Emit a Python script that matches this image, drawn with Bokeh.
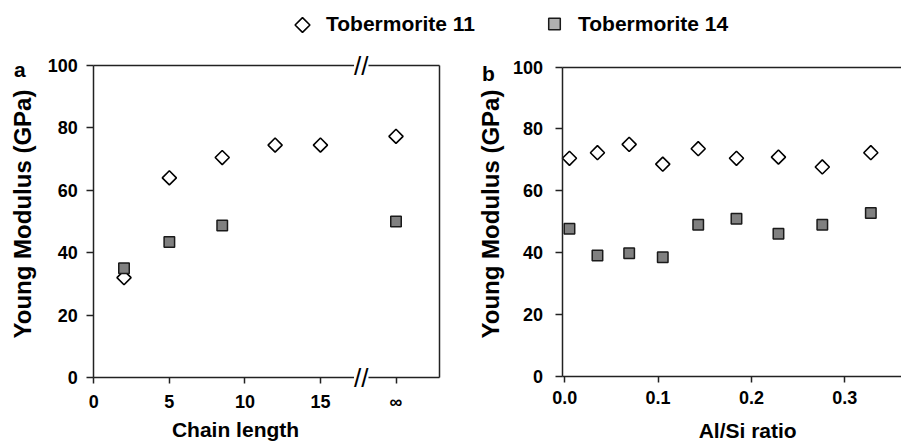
import numpy as np
from bokeh.plotting import figure
from bokeh.models import (Range1d, FixedTicker, LinearAxis, Label, Legend, LegendItem,
                          PrintfTickFormatter)
from bokeh.embed import file_html
from bokeh.resources import INLINE

# ---------------- data ----------------
# panel a: chain length (20 stands for the infinite chain, shown as "∞")
chain_len_11 = [2, 5, 8.5, 12, 15, 20]
tob11_chain = [32, 64, 70.5, 74.5, 74.5, 77.3]
chain_len_14 = [2, 5, 8.5, 20]
tob14_chain = [35, 43.4, 48.7, 50]
chain_ticks = [0, 5, 10, 15, 20]
chain_tick_labels = {20: "∞"}

# panel b: Al/Si ratio
alsi = [0.005, 0.035, 0.069, 0.105, 0.143, 0.184, 0.229, 0.276, 0.328]
tob11_alsi = [70.5, 72.3, 75.0, 68.6, 73.6, 70.5, 70.9, 67.7, 72.3]
tob14_alsi = [47.7, 39.1, 39.8, 38.5, 49.0, 51.0, 46.1, 49.0, 52.8]
alsi_ticks = [0.0, 0.1, 0.2, 0.3]
y_ticks = [0, 20, 40, 60, 80, 100]

series_names = ["Tobermorite 11", "Tobermorite 14"]

# ---------------- layout (pixel anchors of the two panels) ----------------
W, H = 901, 442
# panel a: x=0 at px 93.3, 15.11 px per unit; y=0 at px 377, y=100 at px 65
A_X0, A_SX, A_XMAX = 93.3, 15.11, 22.9
A_Y0, A_SY = 377.0, 3.12
# panel b: x=0 at px 564.3, 933 px per unit; y=0 at px 376, y=100 at px 66.5
B_X0, B_SX, B_XMIN = 564.3, 933.0, -0.002
B_Y0, B_SY = 376.0, 3.095
B_XMAX = (W - B_X0) / B_SX


def ax_px(px):  # page pixel -> panel a x
    return (px - A_X0) / A_SX


def ay_px(py):  # page pixel -> panel a y
    return (A_Y0 - py) / A_SY


FONT = "Liberation Sans"
LINE = "#222222"
SQ_FILL = "#808080"

p = figure(width=W, height=H, output_backend="svg", toolbar_location=None,
           x_axis_location=None, y_axis_location=None, min_border=0,
           x_range=Range1d(-A_X0 / A_SX, (W - A_X0) / A_SX),
           y_range=Range1d(-(H - A_Y0) / A_SY, A_Y0 / A_SY))
p.extra_x_ranges = {"b": Range1d(-B_X0 / B_SX, (W - B_X0) / B_SX)}
p.extra_y_ranges = {"b": Range1d(-(H - B_Y0) / B_SY, B_Y0 / B_SY)}
p.outline_line_color = None
p.grid.visible = False
p.background_fill_color = "white"
p.border_fill_color = "white"


def axis(side, rng, loc, bounds, ticks=None, tick_out=6, standoff=8, formatter=None, overrides=None):
    ax = LinearAxis(x_range_name=rng, y_range_name=rng, fixed_location=loc, bounds=bounds,
                    axis_line_color=LINE, axis_line_width=1.5,
                    major_tick_line_color=LINE, major_tick_line_width=1.5,
                    major_tick_in=0, major_tick_out=tick_out, minor_tick_line_color=None,
                    major_label_text_font=FONT, major_label_text_font_style="bold",
                    major_label_text_font_size="18px", major_label_text_color="black",
                    major_label_standoff=standoff,
                    ticker=FixedTicker(ticks=ticks if ticks is not None else []))
    if ticks is None:
        ax.major_label_text_font_size = "0px"
        ax.major_tick_line_color = None
    if formatter is not None:
        ax.formatter = formatter
    if overrides:
        ax.major_label_overrides = overrides
    p.add_layout(ax, side)
    return ax


def label(rng, x, y, text, size, angle=0.0, baseline="alphabetic", style="bold", bg=None, align="center"):
    lb = Label(x=x, y=y, text=text, x_range_name=rng, y_range_name=rng,
               text_font=FONT, text_font_size=size, text_font_style=style,
               text_align=align, text_baseline=baseline, angle=angle, text_color="black")
    if bg is not None:
        lb.background_fill_color = bg
    p.add_layout(lb)


# ---------------- panel a ----------------
axis("below", "default", 0, (0, A_XMAX), chain_ticks, overrides=chain_tick_labels)
axis("left", "default", 0, (0, 100), y_ticks, tick_out=7, standoff=9)
axis("above", "default", 100, (0, A_XMAX))
axis("right", "default", A_XMAX, (0, 100))

p.scatter(chain_len_11, tob11_chain, marker="square", angle=np.pi / 4, size=10,
          fill_color="white", line_color="black", line_width=1.6)
p.scatter(chain_len_14, tob14_chain, marker="square", size=10.5,
          fill_color=SQ_FILL, line_color="#1a1a1a", line_width=1.5)

label("default", 9.38, -16.8, "Chain length", "21px")
label("default", -4.72, 52.4, "Young Modulus (GPa)", "24px", angle=np.pi / 2, baseline="middle")
label("default", -4.9, 98.7, "a", "21px")
label("default", 17.7, 100, "//", "26px", baseline="middle", style="normal", bg="white")
label("default", 17.7, 0, "//", "26px", baseline="middle", style="normal", bg="white")

# ---------------- panel b ----------------
axis("below", "b", 0, (B_XMIN, B_XMAX), alsi_ticks, formatter=PrintfTickFormatter(format="%.1f"))
axis("left", "b", B_XMIN, (0, 100), y_ticks, tick_out=7, standoff=13)
axis("above", "b", 100, (B_XMIN, B_XMAX))

p.scatter(alsi, tob11_alsi, marker="square", angle=np.pi / 4, size=10,
          fill_color="white", line_color="black", line_width=1.6,
          x_range_name="b", y_range_name="b")
p.scatter(alsi, tob14_alsi, marker="square", size=10.5,
          fill_color=SQ_FILL, line_color="#1a1a1a", line_width=1.5,
          x_range_name="b", y_range_name="b")

label("b", 0.196, -17.3, "Al/Si ratio", "21px")
label("b", -0.0796, 52.5, "Young Modulus (GPa)", "24px", angle=np.pi / 2, baseline="middle")
label("b", -0.082, 97.9, "b", "21px")

# ---------------- legend ----------------
# legend keys: diamond key is drawn separately (legends draw markers unrotated)
leg11 = p.scatter([np.nan], [np.nan], marker="square", size=10,
                  fill_alpha=0, line_alpha=0)
leg14 = p.scatter([np.nan], [np.nan], marker="square", size=10,
                  fill_color="#b0b0b0", line_color="#1a1a1a", line_width=1.5)
p.scatter([ax_px(302)], [ay_px(24.5)], marker="square", angle=np.pi / 4, size=10.5,
          fill_color="white", line_color="black", line_width=1.6)
leg = Legend(items=[LegendItem(label=series_names[0], renderers=[leg11]),
                    LegendItem(label=series_names[1], renderers=[leg14])],
             orientation="horizontal", location=(287, 404),
             label_text_font=FONT, label_text_font_style="bold", label_text_font_size="21px",
             label_text_color="black",
             glyph_width=30, glyph_height=29, label_standoff=9, spacing=64,
             padding=0, margin=0, border_line_color=None, background_fill_alpha=0)
p.add_layout(leg)

open("out.html", "w").write(file_html(p, INLINE))
